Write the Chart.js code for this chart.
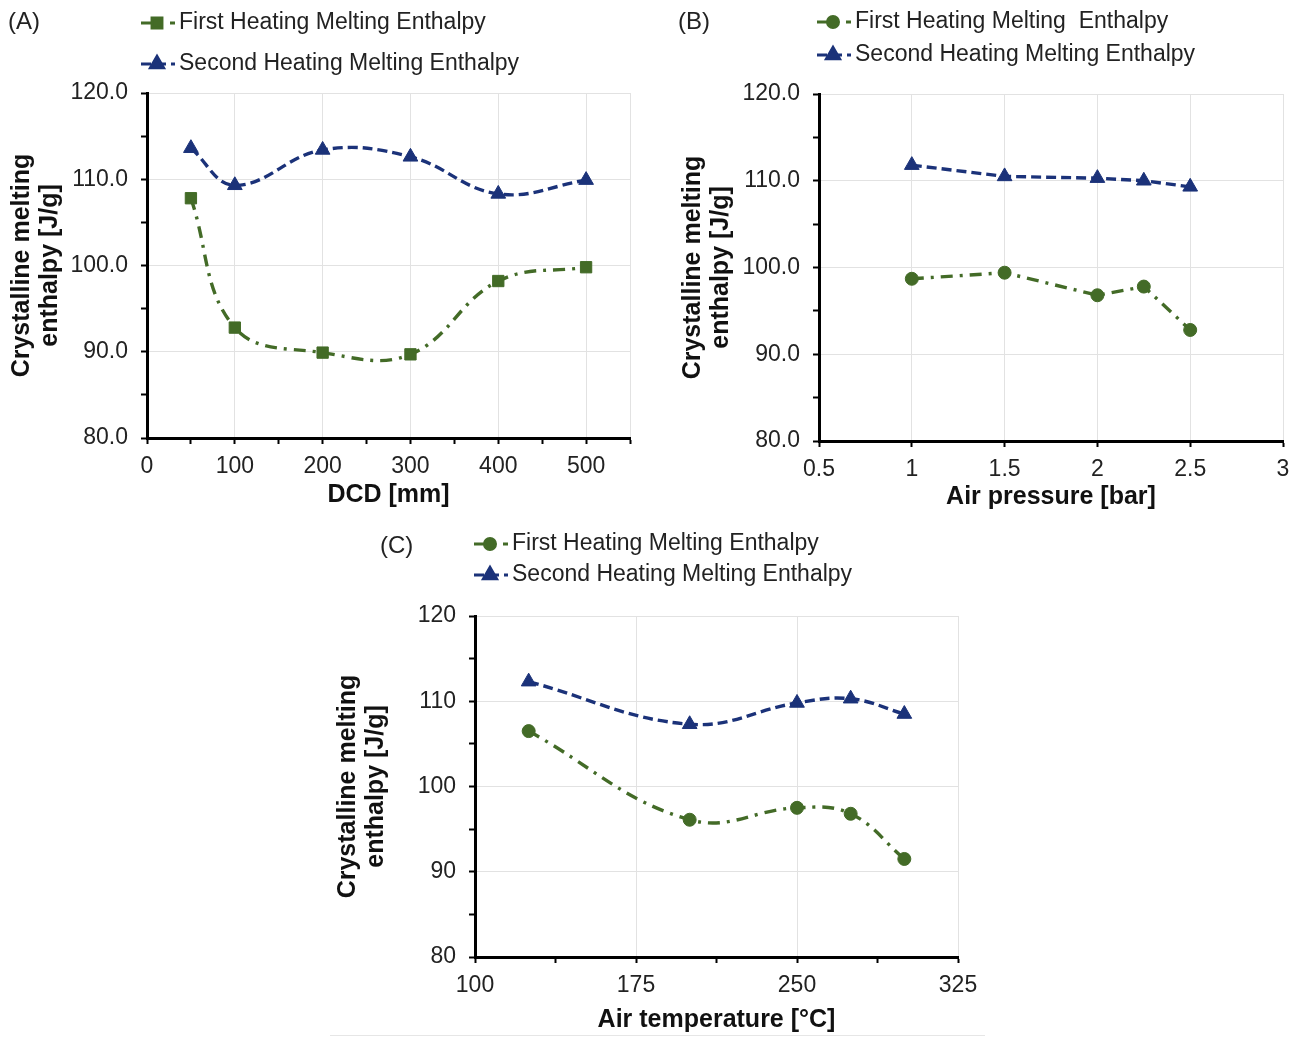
<!DOCTYPE html>
<html>
<head>
<meta charset="utf-8">
<script src="https://cdn.jsdelivr.net/npm/chart.js@4.4.1/dist/chart.umd.min.js"></script>
<style>
    body { margin: 0; background: #fff; width: 1301px; height: 1038px; position: relative; overflow: hidden; }
    .box { position: absolute; }
    #rule { position: absolute; left: 330px; top: 1035px; width: 655px; height: 1px; background: #e6e6e6; }
</style>
</head>
<body>
<div class="box" style="left:0;top:0;width:650px;height:515px"><canvas id="chartA"></canvas></div>
<div class="box" style="left:660px;top:0;width:641px;height:515px"><canvas id="chartB"></canvas></div>
<div class="box" style="left:330px;top:520px;width:660px;height:518px"><canvas id="chartC"></canvas></div>
<div id="rule"></div>
<script>
// (A) DCD
const dcd = [50, 100, 200, 300, 400, 500];
const dcdFirst = [107.8, 92.8, 89.9, 89.7, 98.2, 99.8];
const dcdSecond = [113.6, 109.3, 113.4, 112.6, 108.3, 109.9];

// (B) air pressure
const pressure = [1, 1.5, 2, 2.25, 2.5];
const pressureFirst = [98.7, 99.4, 96.8, 97.8, 92.8];
const pressureSecond = [111.8, 110.5, 110.3, 110.0, 109.3];

// (C) air temperature
const temperature = [125, 200, 250, 275, 300];
const temperatureFirst = [106.5, 96.1, 97.5, 96.8, 91.5];
const temperatureSecond = [112.3, 107.3, 109.8, 110.3, 108.5];

const seriesNames = ["First Heating Melting Enthalpy", "Second Heating Melting Enthalpy"];
const seriesNamesB = ["First Heating Melting  Enthalpy", "Second Heating Melting Enthalpy"];
const yTitle = ["Crystalline melting", "enthalpy [J/g]"];

const FONT = '"Liberation Sans", Arial, sans-serif';
const GREEN = "#436b27";
const BLUE = "#1b3279";
const GREEN_DASH = [12, 7, 3, 7];
const BLUE_DASH = [10, 5];

Chart.defaults.font.family = FONT;

// legend drawn as line sample + marker, like the spreadsheet legend
const lineLegend = {
    id: "lineLegend",
    afterDraw(chart, args, o) {
        const ctx = chart.ctx;
        ctx.save();
        ctx.textBaseline = "middle";
        ctx.textAlign = "left";
        ctx.fillStyle = "#222";
        ctx.font = "24px " + FONT;
        ctx.fillText(o.tag, o.tagX, o.tagY);

        chart.data.datasets.forEach((ds, i) => {
            const y = o.y[i];
            ctx.strokeStyle = ds.borderColor;
            ctx.lineWidth = 3;
            ctx.setLineDash(ds.borderDash);
            ctx.beginPath();
            ctx.moveTo(o.x, y);
            ctx.lineTo(o.x + 34, y);
            ctx.stroke();
            ctx.setLineDash([]);
            ctx.fillStyle = ds.borderColor;
            Chart.helpers.drawPoint(ctx, {
                pointStyle: ds.pointStyle, radius: ds.pointRadius - 1, rotation: 0, borderWidth: 1
            }, o.x + 16, y);
            ctx.fillStyle = "#222";
            ctx.font = "23px " + FONT;
            ctx.fillText(ds.label, o.x + 38, y);
        });
        ctx.restore();
    }
};

function panel(id, xs, first, second, o) {
    const series = (vals, color, dash, marker, r) => ({
        data: xs.map((x, i) => ({ x, y: vals[i] })),
        borderColor: color,
        backgroundColor: color,
        pointBackgroundColor: color,
        pointBorderColor: color,
        pointStyle: marker,
        pointRadius: r,
        pointBorderWidth: 1,
        borderWidth: 3.4,
        borderDash: dash,
        tension: o.tension,
        fill: false
    });
    const firstSet = series(first, GREEN, GREEN_DASH, o.firstMarker, o.firstRadius);
    firstSet.label = o.names[0];
    const secondSet = series(second, BLUE, BLUE_DASH, "triangle", 8.5);
    secondSet.label = o.names[1];

    const tickFont = { size: 23, family: FONT };
    const titleFont = { size: 25, weight: "bold", family: FONT, lineHeight: 1.12 };

    return new Chart(document.getElementById(id), {
        type: "line",
        data: { datasets: [firstSet, secondSet] },
        plugins: [lineLegend],
        options: {
            responsive: true,
            maintainAspectRatio: false,
            animation: false,
            events: [],
            layout: { padding: { top: o.top, right: o.right, left: 0, bottom: 0 } },
            plugins: {
                legend: { display: false },
                tooltip: { enabled: false },
                lineLegend: o.legend
            },
            scales: {
                x: {
                    type: "linear",
                    min: o.xMin,
                    max: o.xMax,
                    afterFit: s => { s.height = o.xHeight; },
                    border: { color: "#000", width: 3 },
                    grid: {
                        color: c => (c.tick && o.xGrid(c.tick.value)) ? "#e2e2e2" : "rgba(0,0,0,0)",
                        tickColor: "#000",
                        tickWidth: 2,
                        tickLength: 6
                    },
                    ticks: {
                        stepSize: o.xStep,
                        autoSkip: false,
                        maxRotation: 0,
                        padding: 9,
                        color: "#222",
                        font: tickFont,
                        callback: v => o.xLabel(v)
                    },
                    title: {
                        display: true,
                        text: o.xTitle,
                        color: "#111",
                        font: titleFont,
                        padding: { top: 0, bottom: o.xTitlePad }
                    }
                },
                y: {
                    min: 80,
                    max: 120,
                    afterFit: s => { s.width = o.yWidth; },
                    border: { color: "#000", width: 3 },
                    grid: {
                        color: c => (c.tick && c.tick.value % 10 === 0) ? "#e2e2e2" : "rgba(0,0,0,0)",
                        tickColor: "#000",
                        tickWidth: 2,
                        tickLength: 6
                    },
                    ticks: {
                        stepSize: 5,
                        autoSkip: false,
                        padding: 13,
                        color: "#222",
                        font: tickFont,
                        callback: v => v % 10 === 0 ? (o.yFixed ? v.toFixed(1) : String(v)) : ""
                    },
                    title: {
                        display: true,
                        text: yTitle,
                        color: "#111",
                        font: titleFont,
                        padding: { top: o.yTitlePad, bottom: 0 }
                    }
                }
            }
        }
    });
}

panel("chartA", dcd, dcdFirst, dcdSecond, {
    names: seriesNames, firstMarker: "rect", firstRadius: 8, tension: 0.4,
    top: 93, right: 20, yWidth: 147, xHeight: 77, yTitlePad: 8, xTitlePad: 6,
    xMin: 0, xMax: 550, xStep: 50,
    xGrid: v => v % 100 === 0 || v === 550,
    xLabel: v => (v % 100 === 0 && v <= 500) ? String(v) : "",
    xTitle: "DCD [mm]", yFixed: true,
    legend: { tag: "(A)", tagX: 8, tagY: 22, x: 141, y: [23, 64] }
});

panel("chartB", pressure, pressureFirst, pressureSecond, {
    names: seriesNamesB, firstMarker: "circle", firstRadius: 6.5, tension: 0,
    top: 94, right: 18, yWidth: 159, xHeight: 74, yTitlePad: 19, xTitlePad: 4,
    xMin: 0.5, xMax: 3, xStep: 0.5,
    xGrid: v => true,
    xLabel: v => String(v),
    xTitle: "Air pressure [bar]", yFixed: true,
    legend: { tag: "(B)", tagX: 18, tagY: 22, x: 157, y: [22, 55] }
});

panel("chartC", temperature, temperatureFirst, temperatureSecond, {
    names: seriesNames, firstMarker: "circle", firstRadius: 6.5, tension: 0.4,
    top: 96, right: 32, yWidth: 145, xHeight: 81, yTitlePad: 4, xTitlePad: 4,
    xMin: 100, xMax: 325, xStep: 37.5,
    xGrid: v => (v - 100) % 75 === 0,
    xLabel: v => (v - 100) % 75 === 0 ? String(v) : "",
    xTitle: "Air temperature [°C]", yFixed: false,
    legend: { tag: "(C)", tagX: 50, tagY: 26, x: 144, y: [24, 55] }
});
</script>
</body>
</html>
